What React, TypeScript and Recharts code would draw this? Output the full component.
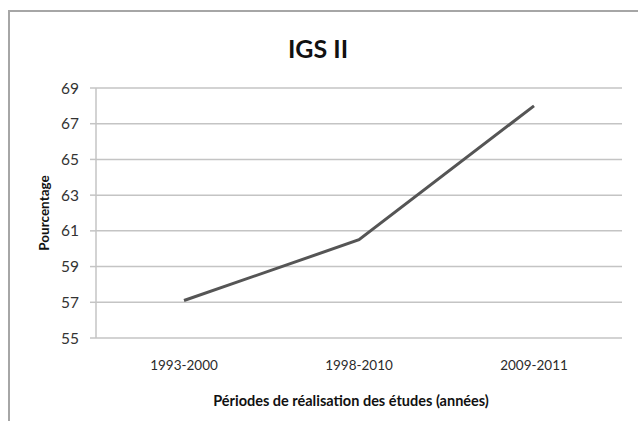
import { LineChart, Line, XAxis, YAxis, CartesianGrid, Label } from "recharts";

// Data
const periods = ["1993-2000", "1998-2010", "2009-2011"];
const pourcentage = [57.1, 60.5, 68.0];
const yTicks = [55, 57, 59, 61, 63, 65, 67, 69];

const data = periods.map((p, i) => ({ periode: p, valeur: pourcentage[i] }));

const FONT = "Lato, 'Open Sans', sans-serif";

const App = () => {
  return (
    <div
      style={{
        position: "fixed",
        left: 0,
        top: 0,
        width: 638,
        height: 421,
        overflow: "hidden",
        background: "#ffffff",
        fontFamily: FONT,
      }}
    >
      {/* chart frame, continues past the right and bottom edges */}
      <div
        style={{
          position: "absolute",
          left: 8,
          top: 10,
          width: 700,
          height: 500,
          borderLeft: "2px solid #a6a6a6",
          borderTop: "2px solid #a6a6a6",
        }}
      />

      {/* title */}
      <div
        style={{
          position: "absolute",
          left: 0,
          top: 33,
          width: 636,
          textAlign: "center",
          fontSize: 25,
          fontWeight: 700,
          color: "#111111",
        }}
      >
        IGS II
      </div>

      <div style={{ position: "absolute", left: 0, top: 0 }}>
        <LineChart
          width={638}
          height={421}
          data={data}
          margin={{ top: 88, right: 16, left: 30, bottom: 0 }}
        >
          <CartesianGrid
            vertical={false}
            stroke="#c4c4c4"
            strokeWidth={1.5}
          />

          <XAxis
            dataKey="periode"
            height={83}
            padding={{ left: 88, right: 88 }}
            axisLine={false}
            tickLine={false}
            tickSize={0}
            tickMargin={22}
            tick={{ fontSize: 13.5, fill: "#2b2b2b", fontFamily: FONT }}
          >
            <Label
              value="Périodes de réalisation des études (années)"
              position="insideBottom"
              offset={15}
              dx={-8}
              style={{
                fontSize: 14.5,
                fontWeight: 700,
                fill: "#111111",
                fontFamily: FONT,
              }}
            />
          </XAxis>

          <YAxis
            type="number"
            domain={[55, 69]}
            ticks={yTicks}
            width={66}
            interval={0}
            axisLine={{ stroke: "#c4c4c4", strokeWidth: 1.5 }}
            tickLine={{ stroke: "#c4c4c4", strokeWidth: 1.5 }}
            tickSize={6}
            tickMargin={11}
            tick={{ fontSize: 15.5, fill: "#333333", fontFamily: FONT }}
          >
            <Label
              value="Pourcentage"
              angle={-90}
              position="insideLeft"
              offset={14}
              style={{
                textAnchor: "middle",
                fontSize: 13.5,
                fontWeight: 700,
                fill: "#111111",
                fontFamily: FONT,
              }}
            />
          </YAxis>

          <Line
            type="linear"
            dataKey="valeur"
            stroke="#555555"
            strokeWidth={3}
            dot={false}
            activeDot={false}
            isAnimationActive={false}
          />
        </LineChart>
      </div>
    </div>
  );
};

export default App;
